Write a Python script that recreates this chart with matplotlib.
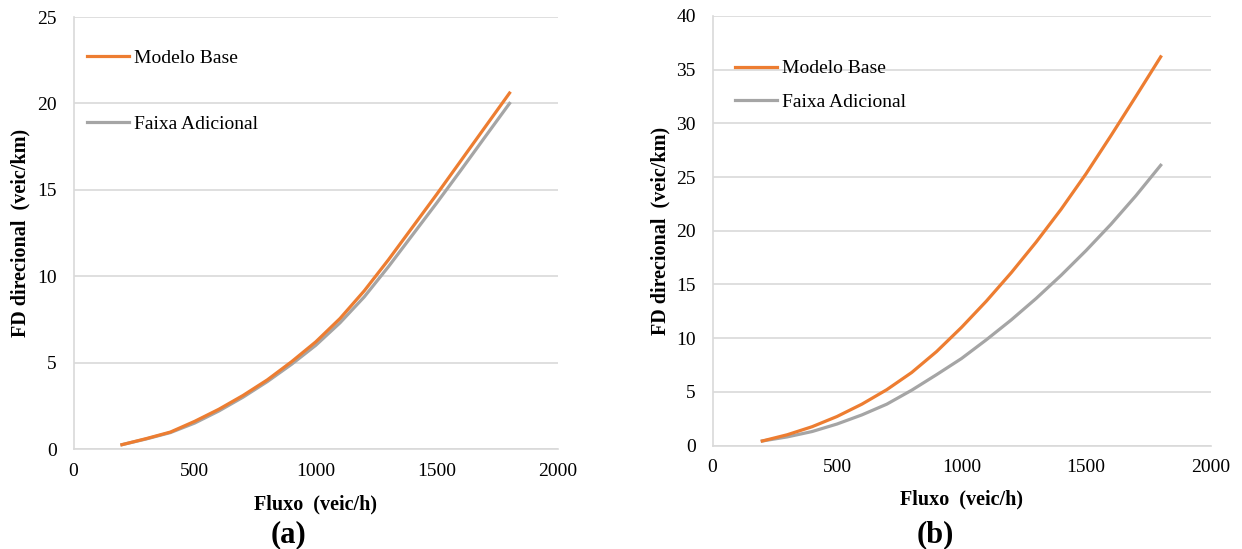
import matplotlib
matplotlib.use("Agg")
import matplotlib.pyplot as plt

plt.rcParams['font.family'] = ['Liberation Serif', 'DejaVu Serif']

# fluxo (veic/h)
fluxo = [200, 300, 400, 500, 600, 700, 800, 900, 1000,
         1100, 1200, 1300, 1400, 1500, 1600, 1700, 1800]

# (a)
base_a = [0.25, 0.6, 0.98, 1.6, 2.3, 3.1, 4.0, 5.05, 6.2,
          7.55, 9.15, 10.95, 12.85, 14.75, 16.7, 18.65, 20.6]
faixa_a = [0.25, 0.58, 0.95, 1.5, 2.2, 3.0, 3.9, 4.9, 6.0,
           7.3, 8.8, 10.55, 12.4, 14.25, 16.15, 18.08, 20.0]

# (b)
base_b = [0.42, 1.0, 1.75, 2.7, 3.85, 5.2, 6.8, 8.75, 11.0,
          13.45, 16.1, 18.95, 22.0, 25.3, 28.85, 32.5, 36.2]
faixa_b = [0.42, 0.8, 1.3, 2.0, 2.85, 3.85, 5.15, 6.6, 8.1,
           9.85, 11.7, 13.7, 15.85, 18.15, 20.6, 23.25, 26.1]

labels = ['Modelo Base', 'Faixa Adicional']
xticks = [0, 500, 1000, 1500, 2000]

ORANGE = '#ED7D31'
GRAY = '#A5A5A5'
GRID = '#D9D9D9'

W, H = 1242, 549
fig = plt.figure(figsize=(W / 100, H / 100), dpi=100)


def px_axes(x0, x1, ytop, ybot):
    return fig.add_axes([x0 / W, (H - ybot) / H, (x1 - x0) / W, (ybot - ytop) / H])


def style(ax, ymax, ystep):
    ax.set_xlim(0, 2000)
    ax.set_ylim(0, ymax)
    ax.set_xticks(xticks)
    ax.set_yticks(range(0, ymax + 1, ystep))
    ax.yaxis.grid(True, color=GRID, linewidth=1.2)
    ax.set_axisbelow(True)
    for s in ['top', 'right']:
        ax.spines[s].set_visible(False)
    for s in ['left', 'bottom']:
        ax.spines[s].set_color(GRID)
        ax.spines[s].set_linewidth(1.2)
    ax.tick_params(axis='both', length=0, labelsize=14, colors='black')
    ax.tick_params(axis='y', pad=12)
    ax.tick_params(axis='x', pad=10)
    ax.set_xlabel('Fluxo  (veic/h)', fontsize=14.5, fontweight='bold')
    ax.set_ylabel('FD direcional  (veic/km)', fontsize=14.5, fontweight='bold')


# ---- (a)
ax1 = px_axes(73.5, 558, 17, 449)
ax1.plot(fluxo, base_a, color=ORANGE, lw=2.3, label=labels[0], zorder=3)
ax1.plot(fluxo, faixa_a, color=GRAY, lw=2.3, label=labels[1], zorder=2)
style(ax1, 25, 5)
ax1.xaxis.set_label_coords((316 - 73.5) / 484.5, (449 - 494) / 432)
ax1.yaxis.set_label_coords((30 - 73.5) / 484.5, 0.5)
ax1.legend(loc='upper left', bbox_to_anchor=(0.028, 0.926), frameon=False,
           fontsize=14, handlelength=2.15, handletextpad=0.25,
           labelspacing=2.5, borderpad=0, borderaxespad=0)

# ---- (b)
ax2 = px_axes(712.5, 1210.5, 16, 445.5)
ax2.plot(fluxo, base_b, color=ORANGE, lw=2.3, label=labels[0], zorder=3)
ax2.plot(fluxo, faixa_b, color=GRAY, lw=2.3, label=labels[1], zorder=2)
style(ax2, 40, 5)
ax2.xaxis.set_label_coords((962 - 712.5) / 498, (445.5 - 489) / 429.5)
ax2.yaxis.set_label_coords((670 - 712.5) / 498, 0.5)
ax2.legend(loc='upper left', bbox_to_anchor=(0.045, 0.898), frameon=False,
           fontsize=14, handlelength=2.15, handletextpad=0.25,
           labelspacing=0.82, borderpad=0, borderaxespad=0)

fig.text(289 / W, 1 - 535 / H, '(a)', fontsize=22, fontweight='bold',
         ha='center', va='center')
fig.text(935 / W, 1 - 535 / H, '(b)', fontsize=22, fontweight='bold',
         ha='center', va='center')

fig.savefig('out.png', dpi=100, facecolor='white')
